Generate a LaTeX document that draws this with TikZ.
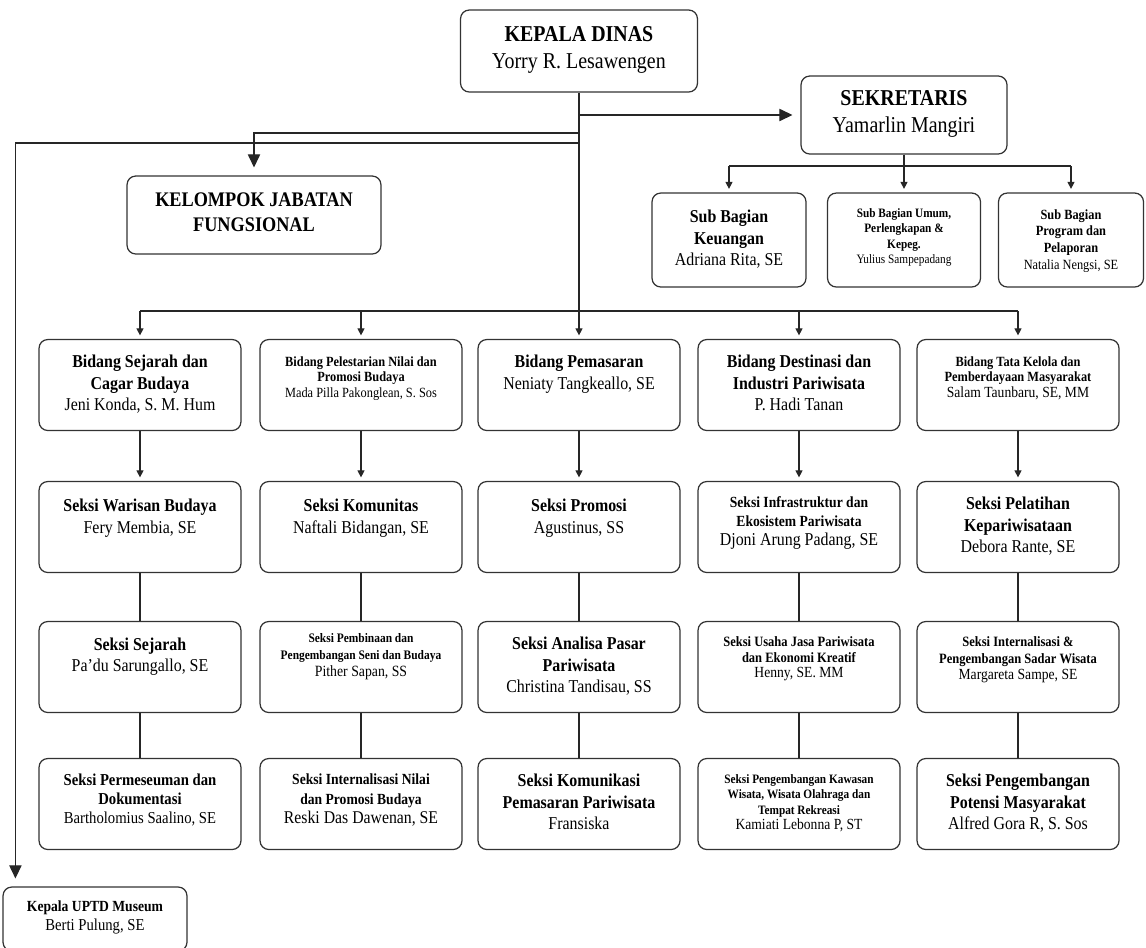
\documentclass[tikz,border=0pt]{standalone}
\usepackage{fontspec}
\setmainfont{Liberation Serif}[FakeStretch=0.88]
\usetikzlibrary{arrows.meta}
\newcommand{\fsz}[2]{\fontsize{#1}{#2}\selectfont}
% text block, lifted by #1 from the box centre
\newcommand{\card}[2][0pt]{\raisebox{\dimexpr#1-2.4pt\relax}[0pt][0pt]{\begin{tabular}{@{}c@{}}#2\end{tabular}}}

\begin{document}
\begin{tikzpicture}[x=0.02cm,y=-0.02cm,>={Triangle[length=4pt,width=4pt]},
  orgbox/.style={draw=black!80,line width=0.7pt,rounded corners=5pt,inner sep=0pt,font=\fsz{10.3}{12.2}},
  unitbox/.style={orgbox,minimum width=4.04cm,minimum height=1.82cm},
  subbox/.style={orgbox,minimum height=1.88cm},
  conn/.style={draw=black!85,line width=0.7pt},
  connarrow/.style={conn,->,shorten >=2pt},
  bigarrow/.style={conn,-{Triangle[length=7.5pt,width=7pt]},shorten >=4.5pt}]
\useasboundingbox (0,0) rectangle (1146,947);
\clip (0,0) rectangle (1146,947);

% top
\node[orgbox,minimum width=4.74cm,minimum height=1.64cm,font=\fsz{12.9}{15.3}] (kadis) at (579,51) {\card{\textbf{KEPALA DINAS}\\Yorry R. Lesawengen}};
\node[orgbox,minimum width=4.12cm,minimum height=1.56cm,font=\fsz{12.9}{15.3}] (sekre) at (904,115) {\card{\textbf{SEKRETARIS}\\Yamarlin Mangiri}};
\node[orgbox,minimum width=5.08cm,minimum height=1.56cm,font=\fsz{11.8}{14.2}] (jf) at (254,215) {\card{\textbf{KELOMPOK JABATAN}\\\textbf{FUNGSIONAL}}};

% sub bagian
\node[subbox,minimum width=3.08cm] (sub1) at (729,240) {\card{\textbf{Sub Bagian}\\\textbf{Keuangan}\\Adriana Rita, SE}};
\node[subbox,minimum width=3.06cm,font=\fsz{7.3}{8.8}] (sub2) at (904,240) {\card[2pt]{\textbf{Sub Bagian Umum,}\\\textbf{Perlengkapan \&}\\\textbf{Kepeg.}\\Yulius Sampepadang}};
\node[subbox,minimum width=2.9cm,font=\fsz{8}{9.5}] (sub3) at (1071,240) {\card{\textbf{Sub Bagian}\\\textbf{Program dan}\\\textbf{Pelaporan}\\Natalia Nengsi, SE}};

% bidang
\node[unitbox] (bid1) at (140,385) {\card{\textbf{Bidang Sejarah dan}\\\textbf{Cagar Budaya}\\Jeni Konda, S. M. Hum}};
\node[unitbox,font=\fsz{8}{9}] (bid2) at (361,385) {\card[4pt]{\textbf{Bidang Pelestarian Nilai dan}\\\textbf{Promosi Budaya}\\Mada Pilla Pakonglean, S. Sos}};
\node[unitbox] (bid3) at (579,385) {\card[6pt]{\textbf{Bidang Pemasaran}\\Neniaty Tangkeallo, SE}};
\node[unitbox] (bid4) at (799,385) {\card{\textbf{Bidang Destinasi dan}\\\textbf{Industri Pariwisata}\\P. Hadi Tanan}};
\node[unitbox,font=\fsz{8}{9}] (bid5) at (1018,385) {\card[4pt]{\textbf{Bidang Tata Kelola dan}\\\textbf{Pemberdayaan Masyarakat}\\{\fsz{8.8}{9}Salam Taunbaru, SE, MM}}};

% seksi, first row
\node[unitbox] (sa1) at (140,527) {\card[5pt]{\textbf{Seksi Warisan Budaya}\\Fery Membia, SE}};
\node[unitbox] (sa2) at (361,527) {\card[5pt]{\textbf{Seksi Komunitas}\\Naftali Bidangan, SE}};
\node[unitbox] (sa3) at (579,527) {\card[5pt]{\textbf{Seksi Promosi}\\Agustinus, SS}};
\node[unitbox,font=\fsz{8.8}{10.8}] (sa4) at (799,527) {\card[2.8pt]{\textbf{Seksi Infrastruktur dan}\\\textbf{Ekosistem Pariwisata}\\{\fsz{10.3}{10.8}Djoni Arung Padang, SE}}};
\node[unitbox] (sa5) at (1018,527) {\card{\textbf{Seksi Pelatihan}\\\textbf{Kepariwisataan}\\Debora Rante, SE}};

% seksi, second row
\node[unitbox] (sb1) at (140,667) {\card[5.7pt]{\textbf{Seksi Sejarah}\\Pa'du Sarungallo, SE}};
\node[unitbox,font=\fsz{7.4}{9.4}] (sb2) at (361,667) {\card[6.8pt]{\textbf{Seksi Pembinaan dan}\\\textbf{Pengembangan Seni dan Budaya}\\{\fsz{8.9}{9.4}Pither Sapan, SS}}};
\node[unitbox] (sb3) at (579,667) {\card{\textbf{Seksi Analisa Pasar}\\\textbf{Pariwisata}\\Christina Tandisau, SS}};
\node[unitbox,font=\fsz{8.1}{9}] (sb4) at (799,667) {\card[5pt]{\textbf{Seksi Usaha Jasa Pariwisata}\\\textbf{dan Ekonomi Kreatif}\\{\fsz{8.8}{9}Henny, SE. MM}}};
\node[unitbox,font=\fsz{8.1}{9.2}] (sb5) at (1018,667) {\card[4.5pt]{\textbf{Seksi Internalisasi \&}\\\textbf{Pengembangan Sadar Wisata}\\{\fsz{8.8}{9.2}Margareta Sampe, SE}}};

% seksi, third row
\node[unitbox,font=\fsz{9.5}{10.8}] (sc1) at (140,804) {\card[2.3pt]{\textbf{Seksi Permeseuman dan}\\\textbf{Dokumentasi}\\Bartholomius Saalino, SE}};
\node[unitbox,font=\fsz{8.8}{11}] (sc2) at (361,804) {\card[2.3pt]{\textbf{Seksi Internalisasi Nilai}\\\textbf{dan Promosi Budaya}\\{\fsz{10.2}{11}Reski Das Dawenan, SE}}};
\node[unitbox] (sc3) at (579,804) {\card{\textbf{Seksi Komunikasi}\\\textbf{Pemasaran Pariwisata}\\Fransiska}};
\node[unitbox,font=\fsz{7.3}{8.9}] (sc4) at (799,804) {\card[1pt]{\textbf{Seksi Pengembangan Kawasan}\\\textbf{Wisata, Wisata Olahraga dan}\\\textbf{Tempat Rekreasi}\\{\fsz{8.8}{8.9}Kamiati Lebonna P, ST}}};
\node[unitbox] (sc5) at (1018,804) {\card{\textbf{Seksi Pengembangan}\\\textbf{Potensi Masyarakat}\\Alfred Gora R, S. Sos}};

\node[orgbox,minimum width=3.68cm,minimum height=1.28cm,font=\fsz{8.8}{10.8}] (uptd) at (95,919) {\card[1.4pt]{\textbf{Kepala UPTD Museum}\\{\fsz{9.5}{10.8}Berti Pulung, SE}}};

% connectors
\coordinate (kjf) at (579,133);
\coordinate (kuptd) at (579,143);
\coordinate (kbus) at (579,311);
\coordinate (sbus) at (904,166);
\draw[connarrow] (kadis) -- (bid3);
\draw[bigarrow] (kadis.south |- sekre.west) -- (sekre.west);
\draw[bigarrow] (kjf) -| (jf.north);
\draw[bigarrow] (kuptd) -| ([xshift=7.4pt]uptd.north west);
\draw[conn] (kbus -| bid1) -- (kbus -| bid5);
\foreach \c in {bid1,bid2,bid4,bid5}
  \draw[connarrow] (kbus -| \c) -- (\c);
\draw[conn] (sbus -| sub1) -- (sbus -| sub3);
\draw[connarrow] (sekre) -- (sub2);
\foreach \c in {sub1,sub3}
  \draw[connarrow] (sbus -| \c) -- (\c);
\foreach \i in {1,...,5} {
  \draw[connarrow] (bid\i) -- (sa\i);
  \draw[conn] (sa\i) -- (sb\i);
  \draw[conn] (sb\i) -- (sc\i);
}
\end{tikzpicture}
\end{document}
